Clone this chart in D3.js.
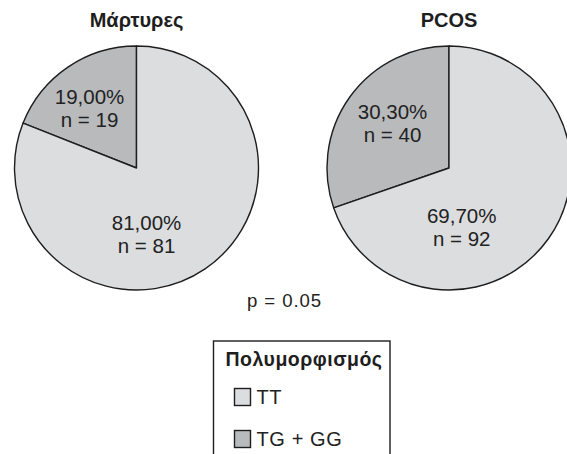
<!DOCTYPE html>
<html>
<head>
<meta charset="utf-8">
<script src="https://cdn.jsdelivr.net/npm/d3@7"></script>
<style>
  html, body { margin: 0; padding: 0; background: #fff; }
  svg { display: block; font-family: "Liberation Sans", Arial, Helvetica, sans-serif; }
</style>
</head>
<body>
<svg id="chart" width="567" height="454"></svg>
<script>
// Genotype groups and their counts per study group
const groups = ["Μάρτυρες", "PCOS"];
const genotypes = ["TG + GG", "TT"];
const legendOrder = ["TT", "TG + GG"];
const controlsCounts = [19, 81];
const pcosCounts = [40, 92];
const controlsPct = ["19,00%", "81,00%"];
const pcosPct = ["30,30%", "69,70%"];
const pValueText = "p = 0.05";
const legendTitle = "Πολυμορφισμός";

const colors = d3.scaleOrdinal()
  .domain(genotypes)
  .range(["#b9babc", "#dcdddf"]);

const svg = d3.select("#chart");

const radius = 122;
const centers = [{ x: 136.5, y: 168 }, { x: 449, y: 168 }];

// Label placement: offset of the first line's baseline from the pie centre
const labelOffsets = [
  [{ dx: -47, dy: -64 }, { dx: 10, dy: 62 }],
  [{ dx: -56.5, dy: -49 }, { dx: 12.7, dy: 54.7 }]
];
const lineGap = 23;

// Slices run counter-clockwise from 12 o'clock
const pie = d3.pie().sort(null).value(d => d.n)
  .startAngle(0).endAngle(-2 * Math.PI);
const arc = d3.arc().innerRadius(0).outerRadius(radius);

const datasets = [
  genotypes.map((g, i) => ({ g, n: controlsCounts[i], pct: controlsPct[i] })),
  genotypes.map((g, i) => ({ g, n: pcosCounts[i], pct: pcosPct[i] }))
];

datasets.forEach((data, k) => {
  const c = centers[k];
  const grp = svg.append("g").attr("transform", `translate(${c.x},${c.y})`);

  grp.selectAll("path")
    .data(pie(data))
    .join("path")
    .attr("d", arc)
    .attr("fill", d => colors(d.data.g))
    .attr("stroke", "#1e1e1e")
    .attr("stroke-width", 1.4)
    .attr("stroke-linejoin", "round");

  const labels = grp.selectAll("text.lbl")
    .data(pie(data))
    .join("text")
    .attr("class", "lbl")
    .attr("text-anchor", "middle")
    .attr("font-size", 20.5)
    .attr("fill", "#222");
  labels.append("tspan")
    .attr("x", (d, i) => labelOffsets[k][i].dx)
    .attr("y", (d, i) => labelOffsets[k][i].dy)
    .text(d => d.data.pct);
  labels.append("tspan")
    .attr("x", (d, i) => labelOffsets[k][i].dx)
    .attr("y", (d, i) => labelOffsets[k][i].dy + lineGap)
    .text(d => "n = " + d.data.n);

  svg.append("text")
    .attr("x", c.x)
    .attr("y", 27)
    .attr("text-anchor", "middle")
    .attr("font-size", 20)
    .attr("font-weight", "bold")
    .attr("fill", "#1e1e1e")
    .text(groups[k]);
});

svg.append("text")
  .attr("x", 284.5)
  .attr("y", 306.5)
  .attr("text-anchor", "middle")
  .attr("font-size", 18.6)
  .attr("letter-spacing", 0.9)
  .attr("fill", "#222")
  .text(pValueText);

// Legend
const lg = svg.append("g").attr("transform", "translate(213.5,341)");
lg.append("rect")
  .attr("x", 0).attr("y", 0)
  .attr("width", 176.5).attr("height", 130)
  .attr("fill", "none")
  .attr("stroke", "#1e1e1e")
  .attr("stroke-width", 1.4);
lg.append("text")
  .attr("x", 90.5)
  .attr("y", 24.7)
  .attr("text-anchor", "middle")
  .attr("font-size", 19.5)
  .attr("letter-spacing", 0.5)
  .attr("font-weight", "bold")
  .attr("fill", "#1e1e1e")
  .text(legendTitle);

const items = lg.selectAll("g.item")
  .data(legendOrder)
  .join("g")
  .attr("class", "item")
  .attr("transform", (d, i) => `translate(21,${47.5 + i * 42})`);
items.append("rect")
  .attr("width", 16).attr("height", 17)
  .attr("fill", d => colors(d))
  .attr("stroke", "#1e1e1e")
  .attr("stroke-width", 1.4);
items.append("text")
  .attr("x", 22)
  .attr("y", 15.5)
  .attr("font-size", 20)
  .attr("letter-spacing", 0.6)
  .attr("fill", "#222")
  .text(d => d);
</script>
</body>
</html>
